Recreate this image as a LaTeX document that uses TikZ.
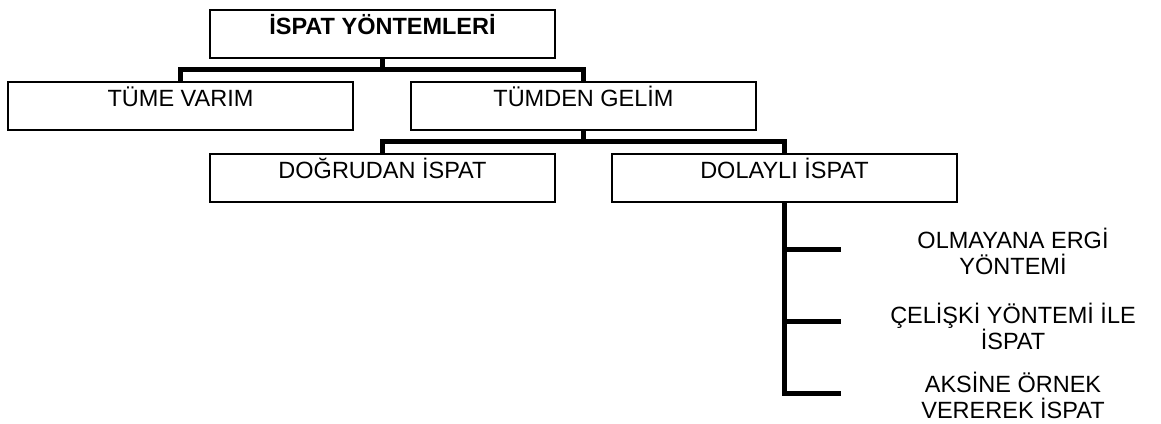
\documentclass[tikz,border=0pt]{standalone}
\usepackage{fontspec}
\setmainfont{Liberation Sans}
\begin{document}
\begin{tikzpicture}[x=1pt,y=-1pt,
  box/.style={draw, line width=1.5pt, minimum width=345pt, inner xsep=0pt, inner ysep=0pt,
    text height=24.5pt, text depth=23.5pt, anchor=north, font=\fontsize{23.5}{26}\selectfont},
  conn/.style={line width=5pt, line join=miter},
  item/.style={align=center, font=\fontsize{23.5}{26}\selectfont, anchor=base, inner sep=0pt}]
\useasboundingbox (0,0) rectangle (1161,423);
\node[box, font=\fontsize{23.5}{26}\selectfont\bfseries] (top) at (382.5,9) {İSPAT YÖNTEMLERİ};
\node[box] (tume) at (180.5,81) {TÜME VARIM};
\node[box] (tumden) at (583.5,81) {TÜMDEN GELİM};
\node[box] (dog) at (382.5,153) {DOĞRUDAN İSPAT};
\node[box] (dol) at (784.5,153) {DOLAYLI İSPAT};
\coordinate (j1) at (382.5,69);
\coordinate (j2) at (583.5,141);
\draw[conn] (top.south) -- (j1);
\draw[conn] (tume.north) |- (j1) -| (tumden.north);
\draw[conn] (tumden.south) -- (j2);
\draw[conn] (dog.north) |- (j2) -| (dol.north);
\coordinate (b1) at (841,249);
\coordinate (b2) at (841,321);
\coordinate (b3) at (841,393);
\draw[conn] (dol.south) |- (b3);
\draw[conn] (dol.south |- b1) -- (b1);
\draw[conn] (dol.south |- b2) -- (b2);
\node[item] (i1) at (1013,274) {OLMAYANA ERGİ\\YÖNTEMİ};
\node[item] (i2) at (1013,349) {ÇELİŞKİ YÖNTEMİ İLE\\İSPAT};
\node[item] (i3) at (1013,418) {AKSİNE ÖRNEK\\VEREREK İSPAT};
\end{tikzpicture}
\end{document}
